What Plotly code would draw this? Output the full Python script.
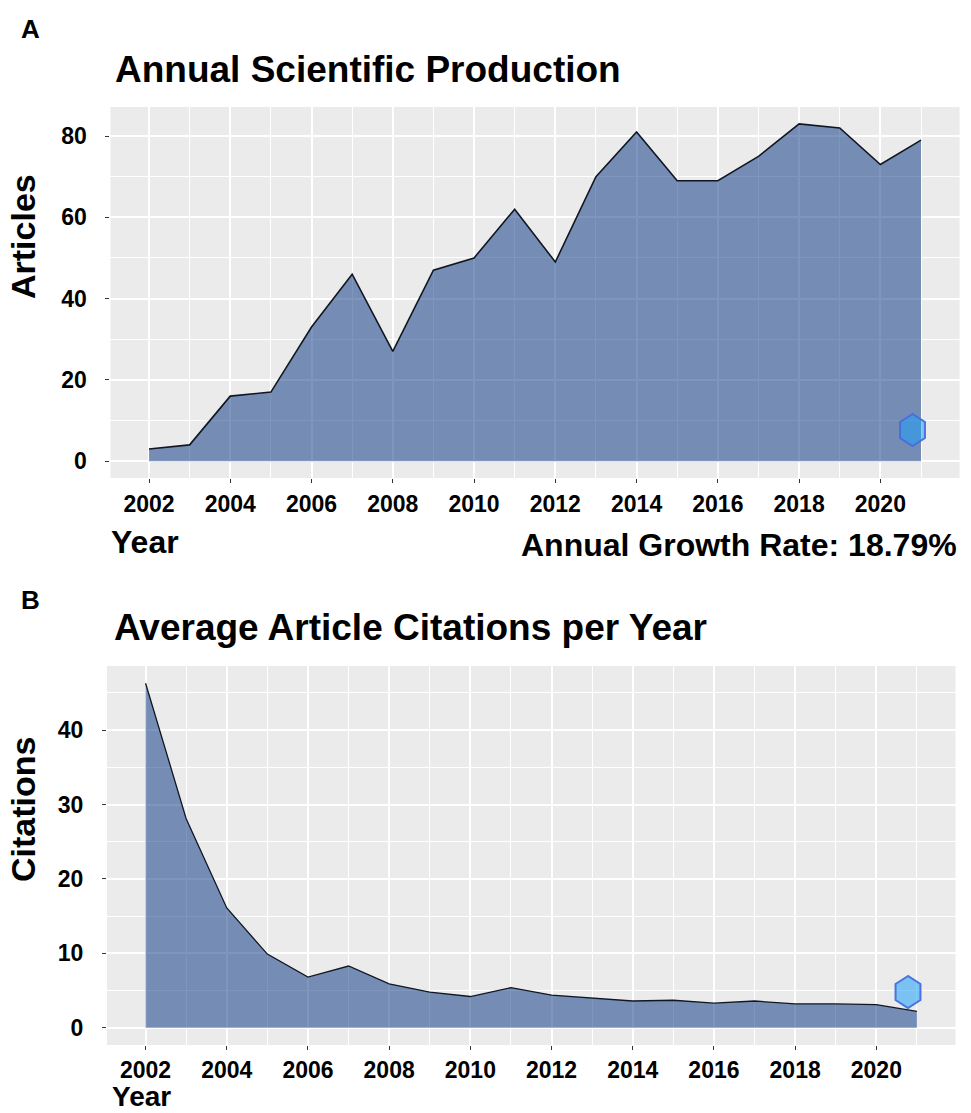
import math
import plotly.graph_objects as go

W, H = 971, 1113

years = list(range(2002, 2022))
articles = [3, 4, 16, 17, 33, 46, 27, 47, 50, 62, 49, 70, 81, 69, 69, 75, 83, 82, 73, 79]
citations = [46.3, 28.1, 16.1, 9.9, 6.8, 8.3, 5.9, 4.8, 4.2, 5.4, 4.4, 4.0, 3.6, 3.7, 3.3, 3.6, 3.2, 3.2, 3.1, 2.2]

x_ticks = list(range(2002, 2021, 2))
top_y_ticks = [0, 20, 40, 60, 80]
bot_y_ticks = [0, 10, 20, 30, 40]

FONT = "Liberation Sans, Arial, sans-serif"
FILL = "rgba(0,47,128,0.5)"
LINE = "#111722"
BG = "#EBEBEB"


def px(x):
    return x / W


def py(y):
    return 1 - y / H


def expand(vals):
    lo, hi = min(0, min(vals)), max(vals)
    r = hi - lo
    return [lo - 0.05 * r, hi + 0.05 * r]


xr = expand([years[0] - years[0], years[-1] - years[0]])
xrange_ = [years[0] + xr[0], years[0] + xr[1]]

fig = go.Figure()
fig.add_trace(go.Scatter(x=years, y=articles, mode="lines", fill="tozeroy",
                         fillcolor=FILL, line=dict(color=LINE, width=1.6),
                         xaxis="x", yaxis="y", showlegend=False, hoverinfo="x+y"))
fig.add_trace(go.Scatter(x=years, y=citations, mode="lines", fill="tozeroy",
                         fillcolor=FILL, line=dict(color=LINE, width=1.3),
                         xaxis="x2", yaxis="y2", showlegend=False, hoverinfo="x+y"))

common_x = dict(range=xrange_, tickmode="array", tickvals=x_ticks,
                ticktext=[str(v) for v in x_ticks],
                showgrid=True, gridcolor="white", gridwidth=1.6,
                minor=dict(dtick=1, tick0=2001, showgrid=True, gridcolor="white", gridwidth=0.8),
                ticks="outside", tickwidth=1, tickcolor="#333333",
                tickfont=dict(family=FONT, size=23, color="black", weight="bold"),
                zeroline=False, showline=False, fixedrange=True)
common_y = dict(showgrid=True, gridcolor="white", gridwidth=1.6,
                ticks="outside", ticklen=4, tickwidth=1, tickcolor="#333333",
                tickfont=dict(family=FONT, size=23, color="black", weight="bold"),
                ticklabelstandoff=14, zeroline=False, showline=False, fixedrange=True)

top_y_range = expand(articles)
bot_y_range = expand(citations)

fig.update_layout(
    width=W, height=H,
    margin=dict(l=0, r=0, t=0, b=0),
    paper_bgcolor="white", plot_bgcolor=BG,
    xaxis=dict(domain=[px(110.4), px(959.6)], anchor="y", ticklen=4, ticklabelstandoff=1, **common_x),
    yaxis=dict(domain=[py(478), py(107)], anchor="x", range=top_y_range,
               tickvals=top_y_ticks,
               minor=dict(dtick=10, tick0=10, showgrid=True, gridcolor="white", gridwidth=0.8),
               **common_y),
    xaxis2=dict(domain=[px(107), px(955.5)], anchor="y2", ticklen=4, ticklabelstandoff=0, **common_x),
    yaxis2=dict(domain=[py(1045), py(666)], anchor="x2", range=bot_y_range,
                tickvals=bot_y_ticks,
                minor=dict(dtick=5, tick0=5, showgrid=True, gridcolor="white", gridwidth=0.8),
                **common_y),
)


def label(text, x, y, size, xanchor="left", angle=0, yanchor="middle"):
    fig.add_annotation(text=text, x=px(x), y=py(y), xref="paper", yref="paper",
                       xanchor=xanchor, yanchor=yanchor, showarrow=False, textangle=angle,
                       borderpad=0,
                       font=dict(family=FONT, size=size, color="black", weight="bold"))


label("A", 20, 29, 26)
label("Annual Scientific Production", 114, 70, 37)
label("Articles", 23, 237, 34, xanchor="center", angle=-90)
label("Year", 110, 542, 32)
label("Annual Growth Rate: 18.79%", 958, 545, 32, xanchor="right")

label("B", 20, 600, 26)
label("Average Article Citations per Year", 113, 627, 37)
label("Citations", 23, 810, 34, xanchor="center", angle=-90)
label("Year", 111, 1113, 28, yanchor="bottom")


def hexagon(cx, cy, r):
    pts = []
    for k in range(6):
        a = math.radians(90 + 60 * k)
        pts.append((px(cx + r * 0.9 * math.cos(a)), py(cy - r * math.sin(a))))
    path = "M " + " L ".join(f"{a:.5f},{b:.5f}" for a, b in pts) + " Z"
    fig.add_shape(type="path", path=path, xref="paper", yref="paper",
                  fillcolor="rgba(30,160,245,0.55)", line=dict(color="rgba(70,110,220,0.95)", width=2))


hexagon(912.5, 430, 16)
hexagon(908, 992, 16)

fig.write_html("out.html", config={"displayModeBar": False},
               post_script="document.body.style.margin='0';")
